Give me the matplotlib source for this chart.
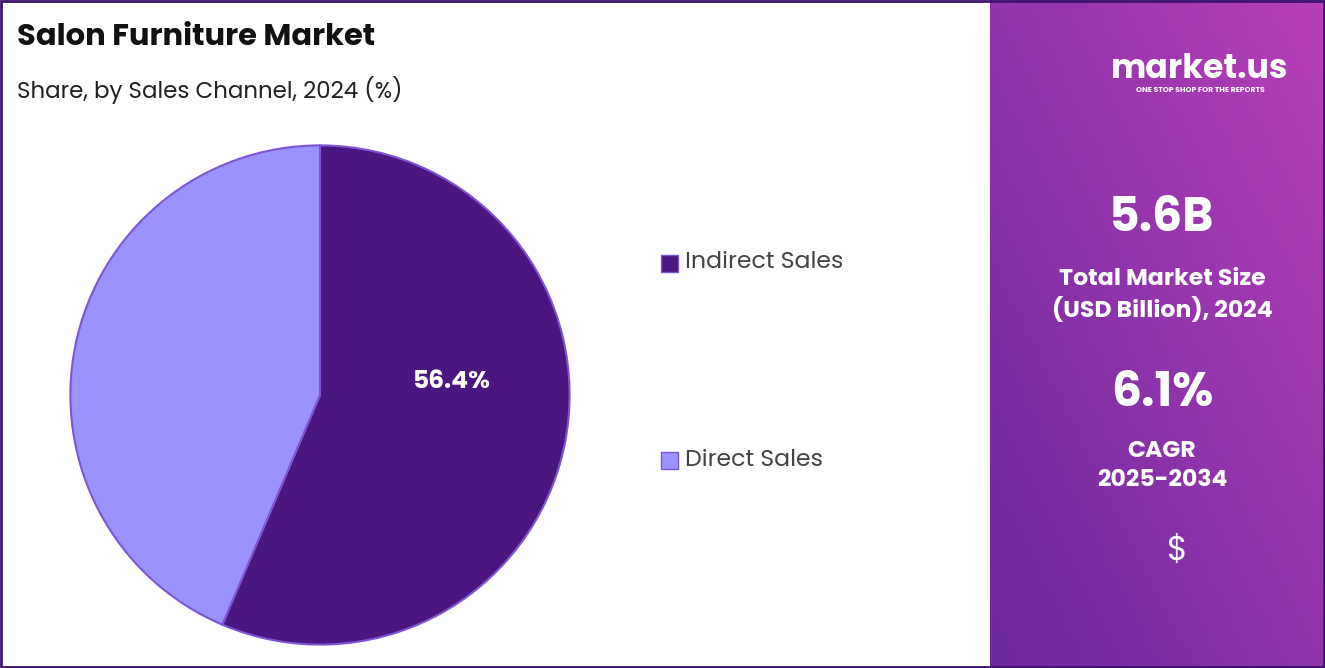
import numpy as np
import matplotlib
matplotlib.use("Agg")
import matplotlib.pyplot as plt
from matplotlib.patches import Rectangle

plt.rcParams["font.family"] = ["Poppins", "Open Sans", "DejaVu Sans"]

labels = ["Indirect Sales", "Direct Sales"]
shares = [56.4, 43.6]
colors = ["#4a1680", "#9b92ff"]
market_size = "5.6B"
cagr = "6.1%"

W, H = 1325, 668
fig = plt.figure(figsize=(W / 100, H / 100), dpi=100)

# pie
ax = fig.add_axes([8 / W, 1 - 707 / H, 624 / W, 624 / H])
wedges, _ = ax.pie(shares, colors=colors, startangle=90, counterclock=False,
                   wedgeprops=dict(edgecolor="#7d55d6", linewidth=1.5))
ax.text(0.53, 0.05, f"{shares[0]}%", color="white", fontsize=18,
        fontweight="bold", ha="center", va="center")
ax.set_aspect("equal")

fig.text(17 / W, 1 - 38 / H, "Salon Furniture Market", fontsize=22,
         fontweight="bold", color="#111111", va="center")
fig.text(17 / W, 1 - 90 / H, "Share, by Sales Channel, 2024 (%)", fontsize=16.5,
         color="#222222", va="center")

for lab, col, y in zip(labels, colors, [263, 460]):
    fig.patches.append(Rectangle((661 / W, 1 - (y + 9) / H), 17 / W, 17 / H,
                                 transform=fig.transFigure, facecolor=col,
                                 edgecolor="#7d55d6", linewidth=1))
    fig.text(685 / W, 1 - y / H, lab, fontsize=17, color="#444444", va="center")

# right panel
rp = fig.add_axes([990 / W, 0, (W - 990) / W, 1])
yy, xx = np.mgrid[0:1:200j, 0:1:100j]
c1 = np.array([0.42, 0.16, 0.62])
c2 = np.array([0.72, 0.25, 0.72])
t = np.clip(0.5 * xx + 0.5 * (1 - yy), 0, 1)[..., None]
grad = c1 * (1 - t) + c2 * t
rp.imshow(grad, aspect="auto", extent=[0, 1, 0, 1], origin="upper")
rp.set_xlim(0, 1); rp.set_ylim(0, 1); rp.axis("off")

fig.text(1200 / W, 1 - 70 / H, "market.us", fontsize=24, fontweight="bold",
         color="white", ha="center", va="center")
fig.text(1200 / W, 1 - 91 / H, "ONE STOP SHOP FOR THE REPORTS", fontsize=5.5,
         fontweight="bold", color="white", ha="center", va="center")
fig.text(1162 / W, 1 - 220 / H, market_size, fontsize=34, fontweight="bold",
         color="white", ha="center", va="center")
fig.text(1162 / W, 1 - 296 / H, "Total Market Size\n(USD Billion), 2024",
         fontsize=17, fontweight="bold", color="white", ha="center",
         va="center", linespacing=1.3)
fig.text(1162 / W, 1 - 395 / H, cagr, fontsize=34, fontweight="bold",
         color="white", ha="center", va="center")
fig.text(1162 / W, 1 - 466 / H, "CAGR\n2025-2034", fontsize=17,
         fontweight="bold", color="white", ha="center", va="center",
         linespacing=1.3)
fig.text(1177 / W, 1 - 552 / H, "$", fontsize=24, color="white",
         ha="center", va="center")

fig.patches.append(Rectangle((0.001, 0.001), 0.998, 0.998, transform=fig.transFigure,
                             fill=False, edgecolor="#3d1470", linewidth=2))
fig.savefig("out.png", dpi=100)
